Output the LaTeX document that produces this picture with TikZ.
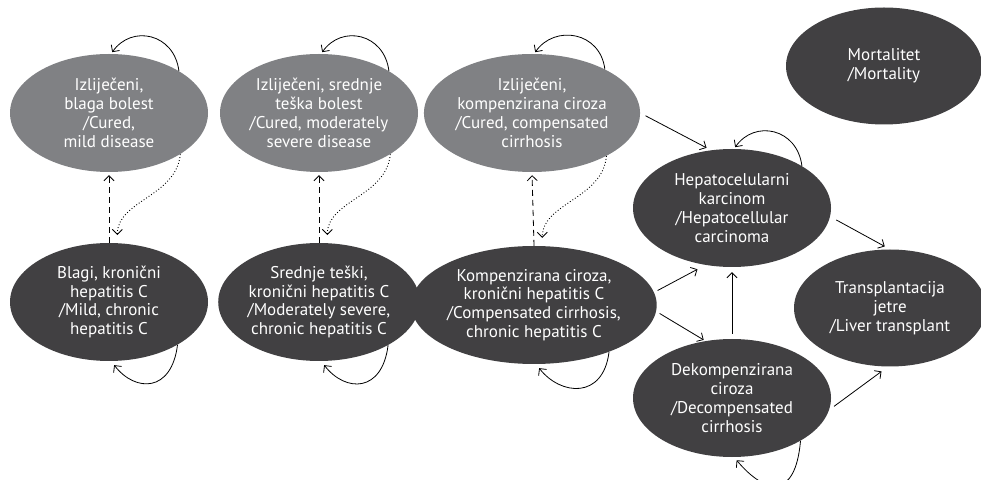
\documentclass[tikz,border=0pt]{standalone}
\usepackage{fontspec}
\setmainfont{PT Sans}
\usetikzlibrary{shapes.geometric,arrows.meta}

\begin{document}
\begin{tikzpicture}[x=1pt, y=1pt, >={Straight Barb[length=5pt,width=10pt]},
    state/.style={ellipse, minimum width=198pt, minimum height=118pt, inner sep=0pt,
      align=center, text=white, font=\fontsize{17}{18.8}\selectfont},
    cured/.style={state, fill=curedfill},
    chronic/.style={state, fill=chronicfill},
    trans/.style={->, line width=0.8pt},
    selfloop/.style={->, line width=0.8pt, shorten >=2pt},
    cureline/.style={->, line width=0.8pt, dash pattern=on 6pt off 4pt, shorten >=3pt},
    relapse/.style={->, line width=0.9pt, dash pattern=on 0.9pt off 2.1pt, shorten >=8pt}]

      % Colors: light and dark grey
      \definecolor{curedfill}{RGB}{128,129,132}
      \definecolor{chronicfill}{RGB}{65,64,66}

      \useasboundingbox (0,0) rectangle (981,479);

      % --- Top row: cured states ---
      \node[cured] (c1) at (109,366) {Izliječeni,\\ blaga bolest\\ /Cured,\\ mild disease};
      \node[cured] (c2) at (319,366) {Izliječeni, srednje\\ teška bolest\\ /Cured, moderately\\ severe disease};
      \node[cured] (c3) at (532,366) {Izliječeni,\\ kompenzirana ciroza\\ /Cured, compensated\\ cirrhosis};

      % --- Bottom row: chronic hepatitis C ---
      \node[chronic] (m1) at (109,177) {Blagi, kronični\\ hepatitis C\\ /Mild, chronic\\ hepatitis C};
      \node[chronic] (m2) at (319,177) {Srednje teški,\\ kronični hepatitis C\\ /Moderately severe,\\ chronic hepatitis C};
      \node[chronic] (m3) at (534,174) {Kompenzirana ciroza,\\ kronični hepatitis C\\ /Compensated cirrhosis,\\ chronic hepatitis C};

      % --- Right part: complications ---
      \node[chronic] (hcc) at (732,271) {Hepatocelularni\\ karcinom\\ /Hepatocellular\\ carcinoma};
      \node[chronic] (dec) at (732,81) {Dekompenzirana\\ ciroza\\ /Decompensated\\ cirrhosis};
      \node[chronic, minimum width=192pt, minimum height=117pt] (tx) at (890,171) {Transplantacija\\ jetre\\ /Liver transplant};
      \node[chronic, minimum width=196pt, minimum height=117pt] (mort) at (884,413) {Mortalitet\\ /Mortality};

      % self loops, top
      \foreach \s in {c1,c2,c3,hcc} {
        \draw[selfloop] (\s.31) .. controls +(97:38) and +(55:36) .. (\s.88);
      }
      % self loops, bottom
      \foreach \s in {m1,m2,m3} {
        \draw[selfloop, shorten >=5pt] (\s.-32) .. controls +(-97:48) and +(-52:40) .. (\s.-88);
      }
      \draw[selfloop, shorten >=4pt] (dec.-32) .. controls +(-95:60) and +(-50:48) .. (dec.-88);

      % cure (dashed) and relapse (dotted)
      \foreach \a/\b in {m1/c1, m2/c2, m3/c3} {
        \draw[cureline] (\a.north) -- (\b.south);
        \draw[relapse] (\b.-30) to[out=-95,in=90] (\a.82);
      }

      % progression
      \draw[trans, shorten <=6pt, shorten >=5pt] (c3.east) -- (hcc.110);
      \draw[trans, shorten <=4pt, shorten >=9pt] (m3.6) -- (hcc.245);
      \draw[trans, shorten <=4pt, shorten >=2pt] (m3.-3) -- (dec.115);
      \draw[trans, shorten <=5pt, shorten >=5pt] (dec.north) -- (hcc.south);
      \draw[trans, shorten <=7pt, shorten >=6pt] (hcc.-5) -- (tx.north);
      \draw[trans, shorten <=6pt, shorten >=8pt] (dec.-7) -- (tx.268);

    \end{tikzpicture}
\end{document}
